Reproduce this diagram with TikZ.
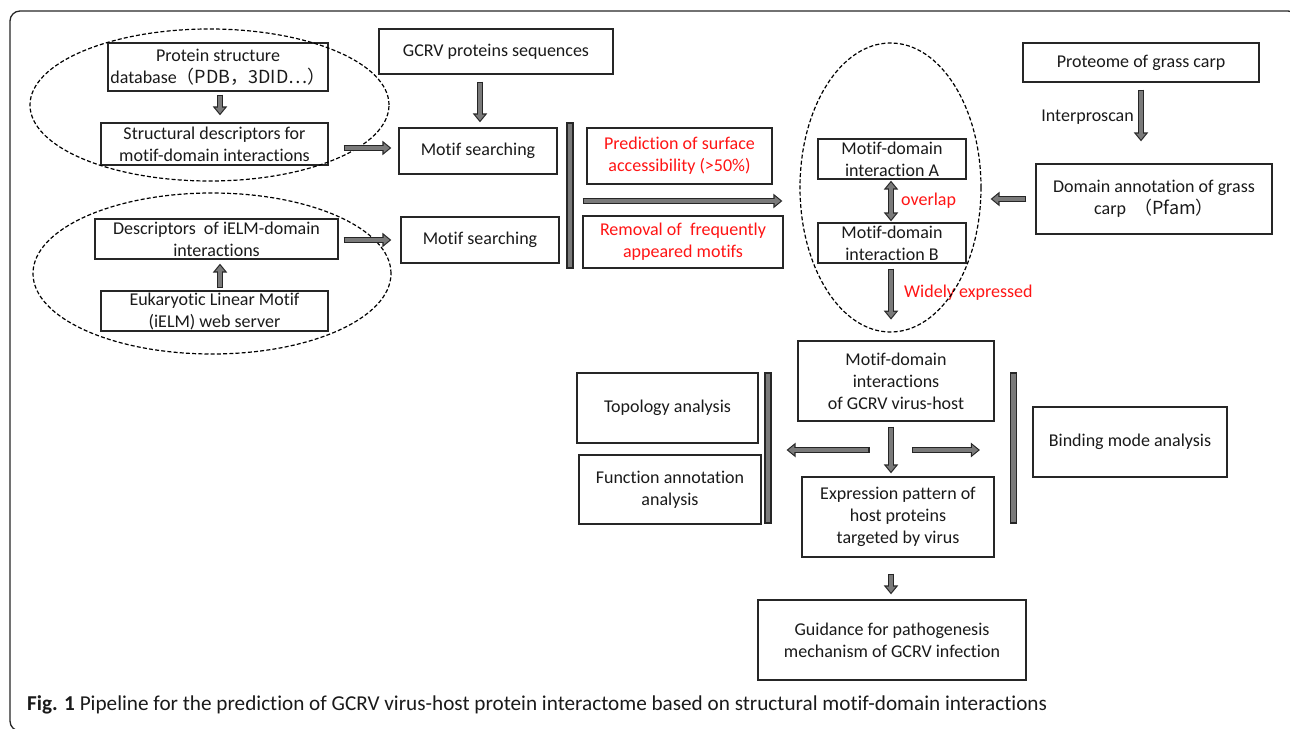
\documentclass[tikz,border=0pt]{standalone}
\usepackage{fontspec}
\setmainfont{Carlito}[Ligatures={NoCommon}]
\newfontfamily\cjk{Noto Sans CJK SC}
\usetikzlibrary{arrows.meta,shapes.geometric}
\definecolor{boxc}{HTML}{262626}
\definecolor{txt}{HTML}{1A1A1A}
\definecolor{redt}{HTML}{FF1414}
\definecolor{arrfill}{HTML}{7A7A7A}
\definecolor{arrline}{HTML}{262626}
\begin{document}
\begin{tikzpicture}[x=1pt,y=-1pt,
  box/.style={draw=boxc, line width=1.3pt, fill=white, align=center, inner sep=0pt, text=txt, font=\fontsize{18}{22}\selectfont},
  redbox/.style={box, text=redt},
  lbl/.style={inner sep=0pt, font=\fontsize{18}{22}\selectfont},
  bar/.style={draw=arrline, fill=arrfill, line width=1.1pt, inner sep=0pt, minimum width=6pt},
  dell/.style={ellipse, draw=black, dashed, dash pattern=on 4pt off 2.2pt, line width=1.2pt, inner sep=0pt},
  barrow/.style={line width=6pt, draw=arrline, -{Triangle[length=9pt,width=14pt]},
    postaction={draw=arrfill, line width=3.4pt, shorten >=1.8pt, shorten <=1.2pt, -{Triangle[length=6pt,width=9.4pt]}}},
  barrowboth/.style={line width=6pt, draw=arrline, {Triangle[length=9pt,width=14pt]}-{Triangle[length=9pt,width=14pt]},
    postaction={draw=arrfill, line width=3.4pt, shorten >=1.8pt, shorten <=1.8pt, {Triangle[length=6pt,width=9.4pt]}-{Triangle[length=6pt,width=9.4pt]}}}
]
\useasboundingbox (0,0) rectangle (1290,728);
\draw[draw=boxc, line width=1.3pt, rounded corners=10pt] (10,11) rectangle (1298,731);

% left column
\node[box, minimum width=220pt, minimum height=48pt] (pdb) at (218,67) {Protein structure\\database\cjk{（}PDB\cjk{，}3DID…\cjk{）}};
\node[box, minimum width=227pt, minimum height=42pt] (sdesc) at (214.5,144) {Structural descriptors for\\motif-domain interactions};
\node[box, minimum width=243pt, minimum height=40pt] (idesc) at (216.5,239) {Descriptors\ \ of iELM-domain\\interactions};
\node[box, minimum width=227pt, minimum height=40pt] (elm) at (214.5,311) {Eukaryotic Linear Motif\\(iELM) web server};

% middle
\node[box, minimum width=234pt, minimum height=45pt] (gcrv) at (496,51.5) {GCRV proteins sequences};
\node[box, minimum width=158pt, minimum height=46pt] (ms1) at (478,151) {Motif searching};
\node[box, minimum width=158pt, minimum height=46pt] (ms2) at (480,240) {Motif searching};
\node[bar, minimum height=145pt] (bar1) at (570,195.5) {};
\node[redbox, minimum width=185pt, minimum height=56pt] (pred) at (679.5,156) {Prediction of surface\\accessibility (>50\%)};
\node[redbox, minimum width=200pt, minimum height=52pt] (remov) at (683,242) {Removal of\ \ frequently\\appeared motifs};

% ellipse group right
\node[box, minimum width=148pt, minimum height=40pt] (mdA) at (892,159) {Motif-domain\\interaction A};
\node[box, minimum width=148pt, minimum height=40pt] (mdB) at (892,243) {Motif-domain\\interaction B};
\node[lbl, text=redt, anchor=west] (ovl) at (901,201) {overlap};
\node[lbl, text=redt, anchor=west] (wide) at (904,293) {Widely expressed};

\node[box, minimum width=236pt, minimum height=39pt] (prot) at (1141,62.5) {Proteome of grass carp};
\node[lbl, text=txt, anchor=east] (ips) at (1134,117) {Interproscan};
\node[box, minimum width=236pt, minimum height=70pt] (dom) at (1154,199) {Domain annotation of grass\\carp \ \cjk{（}Pfam\cjk{）}};

% lower part
\node[box, minimum width=196pt, minimum height=80pt] (mdi) at (896,381) {Motif-domain\\interactions\\of GCRV virus-host};
\node[box, minimum width=181pt, minimum height=70pt] (topo) at (667.5,408) {Topology analysis};
\node[box, minimum width=182pt, minimum height=69pt] (func) at (670,489.5) {Function annotation\\analysis};
\node[bar, minimum height=150pt] (bar2) at (768,448) {};
\node[bar, minimum height=150pt] (bar3) at (1013.5,448) {};
\node[box, minimum width=194pt, minimum height=70pt] (bind) at (1130,442) {Binding mode analysis};
\node[box, minimum width=192pt, minimum height=80pt] (expr) at (898,517) {Expression pattern of\\host proteins\\targeted by virus};
\node[box, minimum width=268pt, minimum height=80pt] (guid) at (892,640) {Guidance for pathogenesis\\mechanism of GCRV infection};

% ellipses
\node[dell, minimum width=359pt, minimum height=152pt] (e1) at (209.5,105) {};
\node[dell, minimum width=358pt, minimum height=161pt] (e2) at (212,273.5) {};
\node[dell, minimum width=181pt, minimum height=289pt] (e3) at (890.5,187.5) {};

% arrows
\draw[barrow] ([xshift=2pt,yshift=-3pt]pdb.south) -- ([xshift=5.5pt,yshift=7pt]sdesc.north);
\draw[barrow] ([xshift=15pt,yshift=-4pt]sdesc.east) -- ([xshift=-7pt,yshift=3pt]ms1.west);
\draw[barrow] ([xshift=5.5pt,yshift=2pt]elm.north) -- ([xshift=3.5pt,yshift=-4pt]idesc.south);
\draw[barrow] ([xshift=5pt,yshift=-1pt]idesc.east) -- ([xshift=-9pt]ms2.west);
\draw[barrow] ([xshift=-16pt,yshift=-7pt]gcrv.south) -- ([xshift=2pt,yshift=5pt]ms1.north);
\draw[barrow] ([xshift=9pt,yshift=-5.5pt]bar1.east) -- ([xshift=-17pt,yshift=-13.5pt]e3.west);
\draw[barrowboth] ([xshift=-1pt,yshift=-1pt]mdA.south) -- ([xshift=-1pt,yshift=1pt]mdB.north);
\draw[barrow] ([xshift=-1pt,yshift=-5pt]mdB.south) -- ([xshift=0.5pt,yshift=13pt]e3.south);
\draw[barrow] ([yshift=-7pt]prot.south) -- ([xshift=-13pt,yshift=22pt]dom.north);
\draw[barrow] ([xshift=-9pt]dom.west) -- ([xshift=9pt,yshift=-11.5pt]e3.east);
\draw[barrow] ([xshift=-5pt,yshift=-5pt]mdi.south) -- ([xshift=-7pt,yshift=3pt]expr.north);
\draw[barrow] ([xshift=98pt,yshift=-2pt]bar2.east) -- ([xshift=15pt,yshift=-2pt]bar2.east);
\draw[barrow] ([xshift=-98pt,yshift=-2pt]bar3.west) -- ([xshift=-30pt,yshift=-2pt]bar3.west);
\draw[barrow] ([xshift=-7pt,yshift=-16pt]expr.south) -- ([xshift=-1pt,yshift=5pt]guid.north);

% caption
\node[anchor=base west, inner sep=0pt, text=txt, font=\fontsize{21.2}{24}\selectfont] (cap) at (27,710) {\textbf{Fig. 1} Pipeline for the prediction of GCRV virus-host protein interactome based on structural motif-domain interactions};
\end{tikzpicture}
\end{document}
